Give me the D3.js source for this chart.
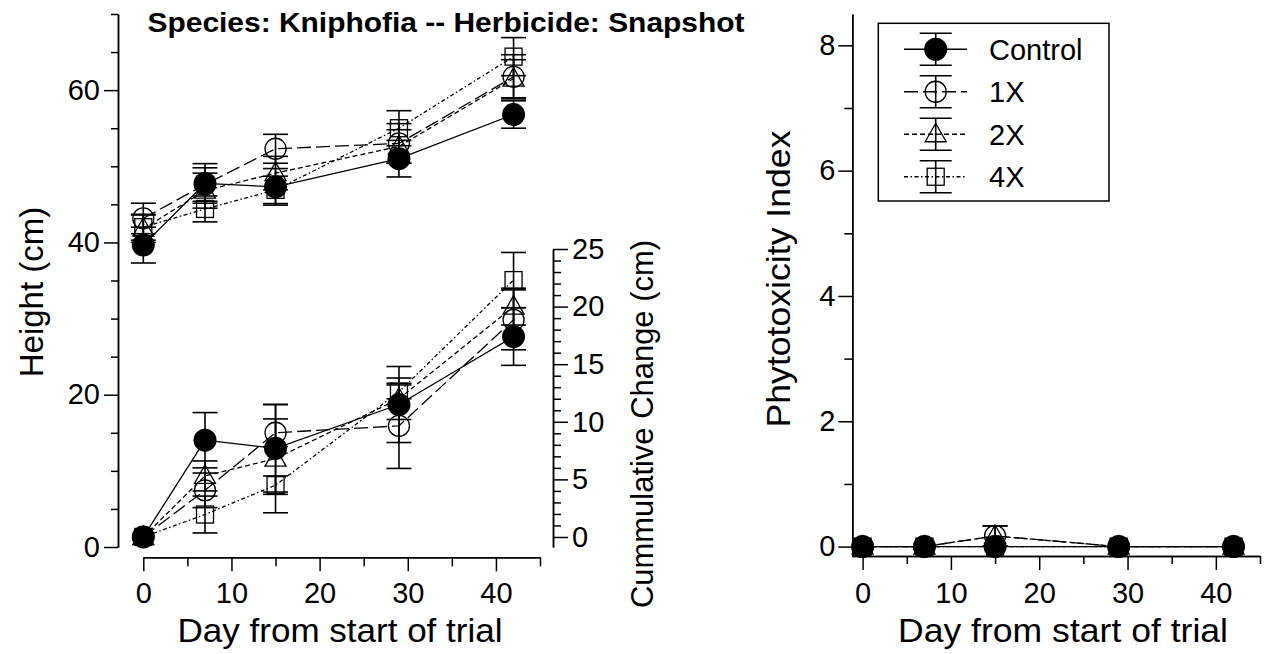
<!DOCTYPE html>
<html>
<head>
<meta charset="utf-8">
<script src="https://cdn.jsdelivr.net/npm/d3@7"></script>
<style>
  body { margin: 0; background: #fff; }
  svg { display: block; font-family: "Liberation Sans", Arial, sans-serif; }
</style>
</head>
<body>
<div id="chart"></div>
<script>
var days = [0, 7, 15, 29, 42];
var seriesNames = ["Control", "1X", "2X", "4X"];

// plant height (cm), mean and error
var heightControl = [39.65, 47.75, 47.3, 51.0, 56.8],
    heightControlErr = [2.35, 2.6, 2.4, 2.4, 1.8];
var height1X = [43.15, 47.6, 52.3, 53.0, 61.75],
    height1XErr = [2.0, 2.2, 1.9, 2.6, 2.9];
var height2X = [41.8, 46.8, 49.1, 52.6, 61.5],
    height2XErr = [1.8, 2.3, 2.2, 2.2, 2.5];
var height4X = [42.0, 44.4, 46.9, 55.0, 64.4],
    height4XErr = [1.7, 1.7, 1.8, 2.3, 2.5];

// cumulative change (cm)
var cumControl = [0, 8.4, 7.7, 11.5, 17.4],
    cumControlErr = [0, 2.4, 3.8, 3.3, 2.5];
var cum1X = [0, 4.05, 9.05, 9.65, 18.85],
    cum1XErr = [0, 1.5, 1.2, 3.7, 2.6];
var cum2X = [0, 5.3, 6.8, 12.0, 20.0],
    cum2XErr = [0, 1.3, 4.7, 1.8, 1.6];
var cum4X = [0, 1.95, 4.5, 12.6, 22.3],
    cum4XErr = [0, 1.6, 0.8, 0.6, 2.4];

// phytotoxicity index
var phytoControl = [0, 0, 0, 0, 0],
    phytoControlErr = [0, 0, 0, 0, 0];
var phyto1X = [0, 0, 0.17, 0, 0],
    phyto1XErr = [0, 0, 0.16, 0, 0];
var phyto2X = [0, 0, 0.17, 0, 0],
    phyto2XErr = [0, 0, 0.16, 0, 0];
var phyto4X = [0, 0, 0, 0, 0],
    phyto4XErr = [0, 0, 0, 0, 0];

var xTicksMajor = [0, 10, 20, 30, 40],
    xTicksMinor = [5, 15, 25, 35, 45];
var heightTicks = [0, 20, 40, 60],
    cumTicks = [0, 5, 10, 15, 20, 25],
    phytoTicks = [0, 2, 4, 6, 8];

var markers = { "Control": "dot", "1X": "circle", "2X": "triangle", "4X": "square" };
var dashes = { "Control": null, "1X": "14,5", "2X": "5,3", "4X": "4,2.5,1.5,2.5" };

function build(vals, errs) {
  return days.map(function(d, i) { return { day: d, v: vals[i], e: errs[i] }; });
}

var heightData = {
  "Control": build(heightControl, heightControlErr),
  "1X": build(height1X, height1XErr),
  "2X": build(height2X, height2XErr),
  "4X": build(height4X, height4XErr)
};
var cumData = {
  "Control": build(cumControl, cumControlErr),
  "1X": build(cum1X, cum1XErr),
  "2X": build(cum2X, cum2XErr),
  "4X": build(cum4X, cum4XErr)
};
var phytoData = {
  "Control": build(phytoControl, phytoControlErr),
  "1X": build(phyto1X, phyto1XErr),
  "2X": build(phyto2X, phyto2XErr),
  "4X": build(phyto4X, phyto4XErr)
};

var width = 1264, height = 654;

var svg = d3.select("#chart")
  .append("svg")
  .attr("width", width)
  .attr("height", height);

// scales
var xL = d3.scaleLinear().domain([0, 45]).range([143.3, 540]);
var yH = d3.scaleLinear().domain([0, 70]).range([547, 14]);
var yC = d3.scaleLinear().domain([-0.87, 25]).range([547, 249]);
var xR = d3.scaleLinear().domain([-1.2, 45]).range([852, 1260]);
var yP = d3.scaleLinear().domain([-0.15, 8.5]).range([556, 14]);

function styleAxis(g) {
  g.attr("font-size", 29).attr("font-family", null);
  g.selectAll("line, path").attr("stroke-width", 1.5);
  g.selectAll("text").attr("fill", "#000");
}

function drawAxis(axisFn, scale, major, minor, bigSize, smallSize, pad, tx, ty) {
  svg.append("g")
    .attr("transform", "translate(" + tx + "," + ty + ")")
    .call(axisFn(scale).tickValues(minor).tickSize(smallSize).tickSizeOuter(0).tickFormat(""))
    .call(styleAxis);
  svg.append("g")
    .attr("transform", "translate(" + tx + "," + ty + ")")
    .call(axisFn(scale).tickValues(major).tickSize(bigSize).tickSizeOuter(0).tickPadding(pad).tickFormat(d3.format("d")))
    .call(styleAxis);
}

// left panel axes
drawAxis(d3.axisLeft, yH, heightTicks, d3.range(0, 71, 5).filter(function(d) { return heightTicks.indexOf(d) < 0; }), 14, 7, 4, 118, 0);
drawAxis(d3.axisRight, yC, cumTicks, d3.range(0, 26, 1).filter(function(d) { return d % 5; }), 15, 8, 4, 553, 0);
drawAxis(d3.axisBottom, xL, xTicksMajor, xTicksMinor, 14, 9, 11, 0, 557.3);

// right panel axes
drawAxis(d3.axisLeft, yP, phytoTicks, [1, 3, 5, 7], 14, 8, 3, 852.3, 0);
drawAxis(d3.axisBottom, xR, xTicksMajor, xTicksMinor, 14, 8, 12, 0, 556);

function drawMarker(g, type, cx, cy) {
  if (type === "dot") {
    g.append("circle").attr("cx", cx).attr("cy", cy).attr("r", 11.5).attr("fill", "#000");
  } else if (type === "circle") {
    g.append("circle").attr("cx", cx).attr("cy", cy).attr("r", 10.5)
      .attr("fill", "none").attr("stroke", "#000").attr("stroke-width", 1.3);
  } else if (type === "triangle") {
    g.append("path")
      .attr("d", "M" + cx + "," + (cy - 11) + "L" + (cx + 10.5) + "," + (cy + 7.5) + "L" + (cx - 10.5) + "," + (cy + 7.5) + "Z")
      .attr("fill", "none").attr("stroke", "#000").attr("stroke-width", 1.3);
  } else {
    g.append("rect").attr("x", cx - 8.5).attr("y", cy - 8.5).attr("width", 17).attr("height", 17)
      .attr("fill", "none").attr("stroke", "#000").attr("stroke-width", 1.3);
  }
}

function errBar(g, cx, y1, y2, half) {
  g.append("line").attr("x1", cx).attr("x2", cx).attr("y1", y1).attr("y2", y2);
  g.append("line").attr("x1", cx - half).attr("x2", cx + half).attr("y1", y1).attr("y2", y1);
  g.append("line").attr("x1", cx - half).attr("x2", cx + half).attr("y1", y2).attr("y2", y2);
}

function drawSeries(data, x, y) {
  // control drawn last so it sits on top
  seriesNames.slice().reverse().forEach(function(name) {
    var pts = data[name];
    var g = svg.append("g").attr("class", "series");
    var line = d3.line()
      .x(function(d) { return x(d.day); })
      .y(function(d) { return y(d.v); });
    g.append("path")
      .datum(pts)
      .attr("d", line)
      .attr("fill", "none")
      .attr("stroke", "#000")
      .attr("stroke-width", 1.3)
      .attr("stroke-dasharray", dashes[name]);
    var eb = g.append("g").attr("stroke", "#000").attr("stroke-width", 1.6);
    pts.forEach(function(d) {
      if (d.e > 0) errBar(eb, x(d.day), y(d.v + d.e), y(d.v - d.e), 12.5);
    });
    pts.forEach(function(d) {
      drawMarker(g, markers[name], x(d.day), y(d.v));
    });
  });
}

drawSeries(heightData, xL, yH);
drawSeries(cumData, xL, yC);
drawSeries(phytoData, xR, yP);

// legend
var legendRows = d3.scaleBand().domain(seriesNames).range([28, 198]);
var leg = svg.append("g");
leg.append("rect")
  .attr("x", 878.3).attr("y", 23.3)
  .attr("width", 230.7).attr("height", 177.7)
  .attr("fill", "#fff").attr("stroke", "#000").attr("stroke-width", 1.5);
seriesNames.forEach(function(name) {
  var cy = legendRows(name) + legendRows.bandwidth() / 2;
  var g = leg.append("g");
  g.append("line").attr("x1", 904).attr("x2", 967).attr("y1", cy).attr("y2", cy)
    .attr("stroke", "#000").attr("stroke-width", 1.3)
    .attr("stroke-dasharray", dashes[name]);
  var eb = g.append("g").attr("stroke", "#000").attr("stroke-width", 1.6);
  errBar(eb, 935.7, cy - 16, cy + 16, 16);
  drawMarker(g, markers[name], 935.7, cy);
  g.append("text")
    .attr("x", 989).attr("y", cy + 10.5)
    .attr("font-size", 29)
    .text(name);
});

// titles and labels
svg.append("text")
  .attr("x", 446).attr("y", 32)
  .attr("text-anchor", "middle")
  .attr("font-size", 28)
  .attr("font-weight", "bold")
  .attr("textLength", 597)
  .attr("lengthAdjust", "spacingAndGlyphs")
  .text("Species: Kniphofia -- Herbicide: Snapshot");

svg.append("text")
  .attr("transform", "translate(43,292) rotate(-90)")
  .attr("text-anchor", "middle")
  .attr("font-size", 33)
  .text("Height (cm)");

svg.append("text")
  .attr("transform", "translate(653,424) rotate(-90)")
  .attr("text-anchor", "middle")
  .attr("font-size", 32)
  .attr("textLength", 368)
  .attr("lengthAdjust", "spacingAndGlyphs")
  .text("Cummulative Change (cm)");

svg.append("text")
  .attr("transform", "translate(790,279) rotate(-90)")
  .attr("text-anchor", "middle")
  .attr("font-size", 34)
  .attr("textLength", 297)
  .attr("lengthAdjust", "spacingAndGlyphs")
  .text("Phytotoxicity Index");

svg.append("text")
  .attr("x", 340).attr("y", 642)
  .attr("text-anchor", "middle")
  .attr("font-size", 33)
  .attr("textLength", 325)
  .attr("lengthAdjust", "spacingAndGlyphs")
  .text("Day from start of trial");

svg.append("text")
  .attr("x", 1063).attr("y", 642)
  .attr("text-anchor", "middle")
  .attr("font-size", 33)
  .attr("textLength", 330)
  .attr("lengthAdjust", "spacingAndGlyphs")
  .text("Day from start of trial");
</script>
</body>
</html>
